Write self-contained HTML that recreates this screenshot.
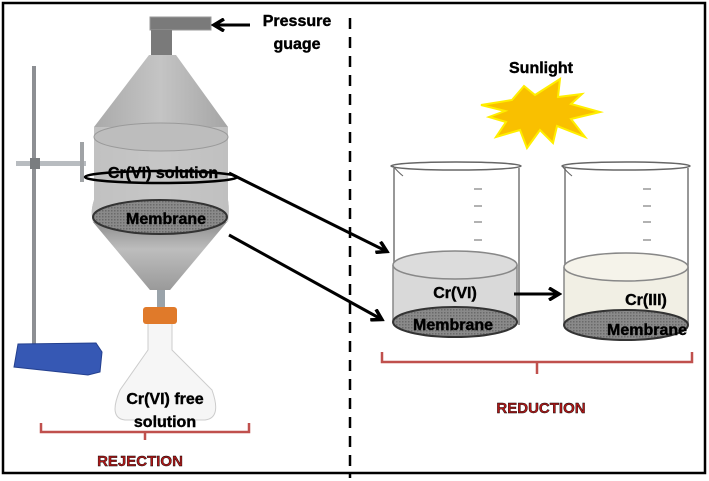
<!DOCTYPE html>
<html><head><style>
html,body{margin:0;padding:0;background:#fff;}
svg{display:block;}
text{font-family:"Liberation Sans",sans-serif;font-weight:bold;stroke:#000;stroke-width:0.4px;}
</style></head><body>
<svg width="709" height="481" viewBox="0 0 709 481" xmlns="http://www.w3.org/2000/svg">
<defs>
<linearGradient id="fun" x1="0" x2="1" y1="0" y2="0">
<stop offset="0" stop-color="#a9a9a9"/><stop offset="0.5" stop-color="#c4c4c4"/><stop offset="1" stop-color="#a5a5a5"/>
</linearGradient>
<linearGradient id="cone2" x1="0" x2="0" y1="0" y2="1">
<stop offset="0" stop-color="#8e8e8e"/><stop offset="0.4" stop-color="#bdbdbd"/><stop offset="1" stop-color="#9a9a9a"/>
</linearGradient>
<pattern id="mesh" width="3" height="3" patternUnits="userSpaceOnUse">
<rect width="3" height="3" fill="#8a8a8a"/><rect width="1.5" height="1.5" fill="#6a6a6a"/>
</pattern>
<marker id="ah" markerWidth="14" markerHeight="14" refX="10" refY="7" orient="auto" markerUnits="userSpaceOnUse">
<path d="M1,1 L11,7 L1,13" fill="none" stroke="#000" stroke-width="3.5"/>
</marker>
</defs>
<rect x="3" y="3" width="702" height="470" fill="none" stroke="#000" stroke-width="2.5"/>
<line x1="350" y1="18" x2="350" y2="478" stroke="#000" stroke-width="2.5" stroke-dasharray="11,8"/>

<rect x="32" y="66" width="4" height="284" fill="#8d8f93"/>
<path d="M18,344 L96,343 L102,352 L100,372 L88,375 L14,367 Z" fill="#3658b4" stroke="#24408f"/>
<rect x="16" y="161" width="70" height="5" fill="#b8bcc0"/>
<rect x="30" y="158" width="10" height="11" fill="#7a7d80"/>
<rect x="80" y="142" width="4" height="40" fill="#a0a3a6"/>

<rect x="150" y="17" width="61" height="13" fill="#7a7a7a" stroke="#999"/>
<rect x="151" y="30" width="21" height="25" fill="#7a7a7a"/>
<line x1="250" y1="25" x2="215" y2="25" stroke="#000" stroke-width="3" marker-end="url(#ah)"/>
<text x="297" y="26" font-size="16" text-anchor="middle">Pressure</text>
<text x="297" y="49" font-size="16" text-anchor="middle">guage</text>

<path d="M149,55 L176,55 L228,127 L228,200 Q230,212 226,222 L170,290 L150,290 L93,222 Q90,212 94,200 L94,127 Z" fill="url(#fun)"/>
<path d="M94,127 L94,200 Q90,212 93,222 L228,222 Q230,212 228,200 L228,127 Z" fill="#c7c7c7" opacity="0.8"/>
<path d="M93,222 L150,290 L170,290 L227,222 Z" fill="url(#cone2)"/>
<ellipse cx="161" cy="137" rx="67" ry="14" fill="#bdbdbd" stroke="#9a9a9a"/>
<ellipse cx="161" cy="177" rx="76" ry="6" fill="none" stroke="#000" stroke-width="2.5"/>
<text x="163" y="178" font-size="16" text-anchor="middle">Cr(VI) solution</text>
<ellipse cx="160" cy="217" rx="67" ry="17" fill="url(#mesh)" stroke="#333" stroke-width="2"/>
<text x="166" y="224" font-size="16" text-anchor="middle">Membrane</text>

<rect x="157" y="290" width="8" height="80" fill="#9aa3aa"/>
<rect x="143" y="307" width="34" height="17" rx="3" fill="#e07a2a"/>
<path d="M148,324 L148,350 L120,390 Q108,418 125,420 L205,420 Q222,418 212,390 L172,350 L172,324" fill="#f6f6f6" stroke="#ccc"/>
<text x="165" y="404" font-size="16" text-anchor="middle">Cr(VI) free</text>
<text x="165" y="427" font-size="16" text-anchor="middle">solution</text>

<path d="M41,423 L41,432 L249,432 L249,423 M145,432 L145,440" fill="none" stroke="#c0504d" stroke-width="2.5"/>
<text x="140" y="466" font-size="15" fill="#b01818" stroke="#b01818" text-anchor="middle">REJECTION</text>

<line x1="229" y1="173" x2="386" y2="251" stroke="#000" stroke-width="3" marker-end="url(#ah)"/>
<line x1="229" y1="235" x2="381" y2="319" stroke="#000" stroke-width="3" marker-end="url(#ah)"/>

<text x="541" y="73" font-size="16" text-anchor="middle">Sunlight</text>
<polygon points="481,105 512,100 524,86 535,95 560,79 558,97 582,94 571,104 600,112 571,119 585,137 557,126 553,143 540,130 527,148 520,130 496,137 506,122 489,117 505,111" fill="#f9c000" stroke="#ffee00" stroke-width="2"/>

<path d="M394,168 L394,325 M519,168 L519,325" stroke="#777" stroke-width="1.5"/>
<ellipse cx="456" cy="166" rx="65" ry="4" fill="none" stroke="#666" stroke-width="1.5"/>
<path d="M393,166 Q398,172 403,176" fill="none" stroke="#666"/>
<path d="M474,189 h8 M474,206 h8 M474,222 h8 M474,240 h8" stroke="#999" stroke-width="1.5"/>
<path d="M393,265 L393,322 L517,322 L517,265" fill="#d9d9d9" stroke="#888" stroke-width="1.5"/>
<ellipse cx="455" cy="265" rx="62" ry="14" fill="#dcdcdc" stroke="#888" stroke-width="1.5"/>
<ellipse cx="455" cy="322" rx="62" ry="15" fill="url(#mesh)" stroke="#333" stroke-width="2"/>
<text x="455" y="298" font-size="16" text-anchor="middle">Cr(VI)</text>
<text x="453" y="330" font-size="16" text-anchor="middle">Membrane</text>
<line x1="514" y1="294" x2="558" y2="294" stroke="#000" stroke-width="3" marker-end="url(#ah)"/>

<path d="M565,168 L565,325 M688,168 L688,325" stroke="#777" stroke-width="1.5"/>
<ellipse cx="626" cy="166" rx="64" ry="4" fill="none" stroke="#666" stroke-width="1.5"/>
<path d="M562,166 Q567,172 572,176" fill="none" stroke="#666"/>
<path d="M643,189 h8 M643,206 h8 M643,222 h8 M643,240 h8" stroke="#999" stroke-width="1.5"/>
<path d="M564,267 L564,324 L688,324 L688,267" fill="#f1efe4" stroke="#888" stroke-width="1.5"/>
<ellipse cx="626" cy="267" rx="62" ry="14" fill="#f5f3ea" stroke="#888" stroke-width="1.5"/>
<ellipse cx="626" cy="325" rx="62" ry="15" fill="url(#mesh)" stroke="#333" stroke-width="2"/>
<text x="646" y="305" font-size="16" text-anchor="middle">Cr(III)</text>
<text x="647" y="335" font-size="16" text-anchor="middle">Membrane</text>

<path d="M382,352 L382,362 L692,362 L692,352 M537,362 L537,374" fill="none" stroke="#c0504d" stroke-width="2.5"/>
<text x="541" y="413" font-size="15" fill="#b01818" stroke="#b01818" text-anchor="middle">REDUCTION</text>
</svg>
</body></html>
